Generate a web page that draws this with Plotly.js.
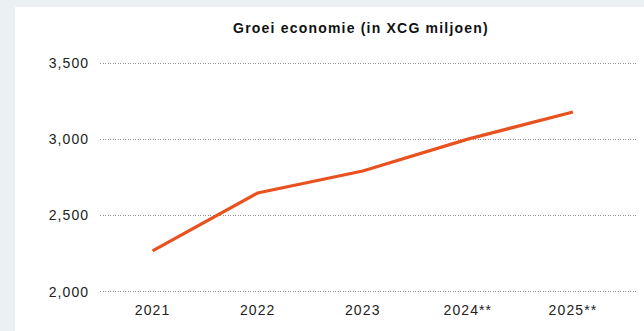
<!DOCTYPE html>
<html>
<head>
<meta charset="utf-8">
<script src="https://cdn.plot.ly/plotly-3.0.1.min.js"></script>
<style>
  html, body { margin: 0; padding: 0; width: 644px; height: 331px; background: #EBF0F3; overflow: hidden; }
  #chart { position: absolute; left: 15px; top: 7px; width: 629px; height: 324px; background: #ffffff; }
  #chart .xtick text, #chart .ytick text { letter-spacing: 1.1px; }
  #chart .gtitle { letter-spacing: 1.2px; }
</style>
</head>
<body>
<div id="chart"></div>
<script>
const years = ['2021', '2022', '2023', '2024**', '2025**'];
const values = [2268, 2648, 2793, 3002, 3180];
const yTicks = [2000, 2500, 3000, 3500];
const yTickLabels = ['2,000', '2,500', '3,000', '3,500'];
const chartTitle = 'Groei economie (in XCG miljoen)';

const trace = {
  x: years,
  y: values,
  type: 'scatter',
  mode: 'lines',
  line: { color: '#E8521E', width: 3.2 },
  hoverinfo: 'skip'
};

const layout = {
  width: 629,
  height: 324,
  margin: { l: 85, r: 8, t: 54, b: 37 },
  paper_bgcolor: '#ffffff',
  plot_bgcolor: '#ffffff',
  showlegend: false,
  font: { family: 'Liberation Sans, Arial, sans-serif', size: 14, color: '#222222' },
  title: {
    text: '<b>' + chartTitle + '</b>',
    font: { family: 'Liberation Sans, Arial, sans-serif', size: 14, color: '#111111' },
    x: 0.55, xref: 'container', xanchor: 'center',
    y: 1 - 21 / 324, yref: 'container', yanchor: 'middle'
  },
  xaxis: {
    type: 'category',
    range: [-0.5, 4.6],
    showgrid: false,
    zeroline: false,
    showline: false,
    ticks: 'outside', ticklen: 3, tickcolor: 'rgba(0,0,0,0)',
    tickfont: { size: 14, color: '#222222' }
  },
  yaxis: {
    range: [1985, 3515],
    tickvals: yTicks,
    ticktext: yTickLabels,
    showgrid: true,
    gridcolor: '#8f8f8f',
    griddash: '1px,1.5px',
    gridwidth: 1,
    zeroline: false,
    showline: false,
    ticks: 'outside', ticklen: 7, tickcolor: 'rgba(0,0,0,0)',
    tickfont: { size: 14, color: '#222222' }
  }
};

Plotly.newPlot('chart', [trace], layout, { displayModeBar: false, staticPlot: true });
</script>
</body>
</html>
